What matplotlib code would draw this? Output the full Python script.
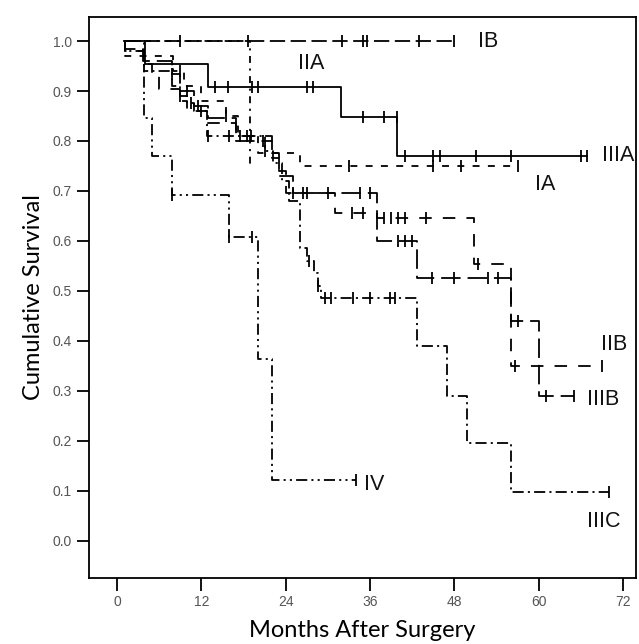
import numpy as np
import matplotlib
matplotlib.use("Agg")
import matplotlib.pyplot as plt

plt.rcParams['font.family'] = ['Liberation Sans', 'DejaVu Sans']
plt.rcParams['lines.scale_dashes'] = False

# --- curve data: start time of each step, survival level, end time, censor times ---
ia_t = [1, 1.2, 8, 9.5, 12, 15.5, 17.2, 20, 26]
ia_s = [1.0, 0.97, 0.94, 0.91, 0.88, 0.85, 0.81, 0.776, 0.75]
ia_end = 57
ia_cens = [9, 15.5, 19, 33, 45, 49, 57]

ib_t = [1]
ib_s = [1.0]
ib_end = 48
ib_cens = [9, 32, 35, 35.6, 43, 48]

iia_t = [1, 18.9]
iia_s = [1.0, 0.75]
iia_end = 19.3
iia_cens = [18.7]

iib_t = [1, 1.1, 3.8, 5, 6, 9, 10, 12.8, 17, 22, 23, 24, 31, 37, 50.8, 56]
iib_s = [1.0, 0.98, 0.955, 0.93, 0.905, 0.88, 0.86, 0.835, 0.81, 0.775, 0.74,
         0.695, 0.655, 0.645, 0.553, 0.35]
iib_end = 69
iib_cens = [25, 27, 33.5, 35, 38, 39, 40, 41, 44, 51.3, 56.6, 69]

iiia_t = [1, 4.0, 12.9, 31.9, 39.9]
iiia_s = [1.0, 0.955, 0.908, 0.848, 0.770]
iiia_end = 66.8
iiia_cens = [14, 15.8, 19.2, 20.0, 27.0, 27.9, 35, 38, 39.8, 41, 45, 46,
             51.1, 56.1, 66, 66.9]

iiib_t = [1, 1.1, 3.7, 7.8, 9, 11, 13, 17, 22, 23, 25, 37, 42.7, 56, 60]
iiib_s = [1.0, 0.985, 0.96, 0.935, 0.90, 0.87, 0.845, 0.80, 0.765, 0.73,
          0.695, 0.60, 0.525, 0.44, 0.29]
iiib_end = 65
iiib_cens = [7.8, 10, 11.5, 20.8, 26.5, 30, 34.5, 36, 40, 41, 42, 44.8, 48,
             52.8, 54.2, 57, 61, 65]

iiic_t = [1, 1.1, 3.8, 7.8, 9, 10, 11, 12.8, 21, 22.2, 23.5, 24.5, 26, 27,
          28, 28.6, 29, 42.7, 47, 49.8, 56]
iiic_s = [1.0, 0.98, 0.94, 0.91, 0.89, 0.875, 0.86, 0.81, 0.78, 0.755, 0.72,
          0.68, 0.585, 0.56, 0.535, 0.51, 0.485, 0.39, 0.29, 0.195, 0.097]
iiic_end = 70
iiic_cens = [9, 10.5, 12, 13, 16, 17.5, 18.5, 21, 27.3, 28.6, 29.6, 30.4,
             33.6, 36, 38.8, 39.6, 70]

iv_t = [1, 3.8, 5.0, 7.8, 15.9, 20, 22]
iv_s = [1.0, 0.846, 0.769, 0.692, 0.607, 0.364, 0.121]
iv_end = 34
iv_cens = [7.8, 15.9, 19.2, 34]

curves = [
    (ia_t, ia_s, ia_end, ia_cens, (0, (5, 6))),
    (ib_t, ib_s, ib_end, ib_cens, (0, (11, 4))),
    (iia_t, iia_s, iia_end, iia_cens, (0, (5, 4, 1.5, 4))),
    (iib_t, iib_s, iib_end, iib_cens, (0, (9, 8))),
    (iiia_t, iiia_s, iiia_end, iiia_cens, '-'),
    (iiib_t, iiib_s, iiib_end, iiib_cens, (0, (14, 5))),
    (iiic_t, iiic_s, iiic_end, iiic_cens, (0, (8, 3, 1.5, 3))),
    (iv_t, iv_s, iv_end, iv_cens, (0, (8, 3, 1.5, 3, 1.5, 3))),
]

labels = ['IB', 'IIA', 'IIIA', 'IA', 'IIB', 'IIIB', 'IV', 'IIIC']
label_x = [51.3, 25.8, 69.0, 59.5, 68.9, 66.8, 35.1, 66.8]
label_y = [1.0, 0.956, 0.770, 0.712, 0.392, 0.282, 0.112, 0.038]

fig = plt.figure(figsize=(6.39, 6.44), dpi=100)
ax = fig.add_axes([0.1393, 0.1025, 0.856, 0.8711])

for t, s, end, cens, ls in curves:
    x = list(t) + [end]
    y = list(s) + [s[-1]]
    ax.step(x, y, where='post', color='black', lw=1.3, linestyle=ls)
    idx = np.searchsorted(t, cens, side='right') - 1
    cy = np.array(s)[idx]
    ax.plot(cens, cy, linestyle='none', marker='|', markersize=8,
            markeredgewidth=1.3, color='black')

for lab, lx, ly in zip(labels, label_x, label_y):
    ax.text(lx, ly, lab, fontsize=15.5, va='center', ha='left', color='#111111')

ax.set_xlim(-3.98, 73.83)
ax.set_ylim(-0.074, 1.048)
ax.set_xticks(np.arange(0, 73, 12))
ax.set_yticks(np.arange(0, 1.01, 0.1))
ax.set_yticklabels([f"{v:.1f}" for v in np.arange(0, 1.01, 0.1)])
ax.tick_params(direction='out', length=9, width=1.3, labelsize=10,
               labelcolor='#555555', color='black')
for sp in ax.spines.values():
    sp.set_linewidth(1.3)

ax.set_xlabel('Months After Surgery', fontsize=17, family=['Lato', 'DejaVu Sans'],
              labelpad=8)
ax.set_ylabel('Cumulative Survival', fontsize=17, family=['Lato', 'DejaVu Sans'],
              labelpad=6)

fig.savefig('out.png', dpi=100)
